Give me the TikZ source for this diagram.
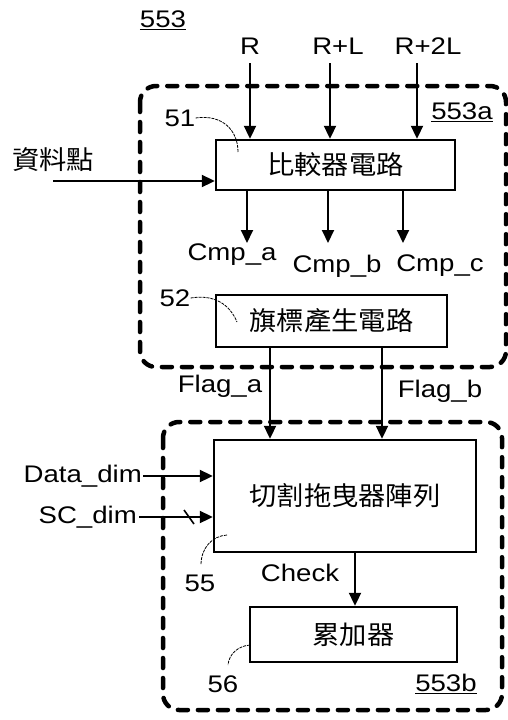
\documentclass[tikz,border=0pt]{standalone}
\usepackage{fontspec}
\setmainfont{Liberation Sans}
\newfontfamily\lat[FakeStretch=1.15]{Liberation Sans}
\newfontfamily\cjk[FakeStretch=1.05]{Noto Sans CJK TC}
\usetikzlibrary{arrows.meta}
\begin{document}
\begin{tikzpicture}[x=1pt,y=-1pt,
  grp/.style={line width=4.5pt, dash pattern=on 10pt off 10pt, line cap=round, rounded corners=16pt},
  blk/.style={draw, line width=2.4pt, minimum width=#1, inner sep=0pt},
  sig/.style={line width=2pt, -{Triangle[length=13pt,width=12pt]}},
  lab/.style={font=\lat\fontsize{24}{24}\selectfont, inner sep=0pt},
  ctext/.style={font=\cjk\fontsize{26}{26}\selectfont, inner sep=0pt},
  lead/.style={line width=0.8pt, dash pattern=on 3pt off 1pt}]
\useasboundingbox (0,0) rectangle (508,720);
% group boxes
\draw[grp] (140,86) rectangle (506,367);
\draw[grp] (163,422) rectangle (502,710);
% blocks
\node[blk=239pt, minimum height=50pt] (cmp) at (335.5,165) {};
\node[ctext] at (cmp.center) {比較器電路};
\node[blk=231pt, minimum height=52pt] (flag) at (331.5,321) {};
\node[ctext] at (flag.center) {旗標產生電路};
\node[blk=262pt, minimum height=112pt] (arr) at (345,496) {};
\node[ctext] at (arr.center) {切割拖曳器陣列};
\node[blk=207pt, minimum height=55pt] (acc) at (353.5,634.5) {};
\node[ctext] at (acc.center) {累加器};
% labels
\node[lab] (l553) at (163,20) {\underline{553}};
\node[lab] (l553a) at (462,112) {\underline{553a}};
\node[lab] (l553b) at (446,684) {\underline{553b}};
\node[lab] (lR) at (250,46) {R};
\node[lab] (lRL) at (338,46) {R+L};
\node[lab] (lR2L) at (428,46) {R+2L};
\node[ctext] (ldata) at (53,160) {資料點};
\node[lab] (lca) at (232,255) {Cmp\_a};
\node[lab] (lcb) at (337,266) {Cmp\_b};
\node[lab] (lcc) at (440,266) {Cmp\_c};
\node[lab] (lfa) at (220,386) {Flag\_a};
\node[lab] (lfb) at (440,391) {Flag\_b};
\node[lab, anchor=east] (ldd) at (142,476) {Data\_dim};
\node[lab, anchor=east] (lsc) at (137,517) {SC\_dim};
\node[lab] (lchk) at (300,573) {Check};
\node[lab] (l51) at (180,118) {51};
\node[lab] (l52) at (175,298) {52};
\node[lab] (l55) at (200,583) {55};
\node[lab] (l56) at (223,684) {56};
% coordinates
\coordinate (iR) at (250,63);
\coordinate (iRL) at (330,63);
\coordinate (iR2L) at (417,63);
\coordinate (iD) at (53,181);
\coordinate (oa) at (247,243);
\coordinate (ob) at (328,243);
\coordinate (oc) at (403,243);
\coordinate (idd) at (143,476);
\coordinate (isc) at (139,517);
% signals
\draw[sig] (iR) -- (iR |- cmp.north);
\draw[sig] (iRL) -- (iRL |- cmp.north);
\draw[sig] (iR2L) -- (iR2L |- cmp.north);
\draw[sig] (iD) -- (iD -| cmp.west);
\draw[sig] (oa |- cmp.south) -- (oa);
\draw[sig] (ob |- cmp.south) -- (ob);
\draw[sig] (oc |- cmp.south) -- (oc);
\draw[sig] (270,0 |- flag.south) -- (270,0 |- arr.north);
\draw[sig] (382,0 |- flag.south) -- (382,0 |- arr.north);
\draw[sig] (idd) -- (idd -| arr.west);
\draw[sig] (isc) -- (isc -| arr.west);
\draw[line width=1.6pt] (184,510) -- (194,524);
\draw[sig] (355,0 |- arr.south) -- (355,0 |- acc.north);
% leaders
\draw[lead] (l51.east) .. controls (222,114) and (238,130) .. (238,152);
\draw[lead] (l52.east) .. controls (215,294) and (230,305) .. (237,322);
\draw[lead] (227,535) .. controls (212,536) and (201,548) .. (201,565);
\draw[lead] (250,645) .. controls (238,646) and (229,654) .. (228,665);
\end{tikzpicture}
\end{document}
